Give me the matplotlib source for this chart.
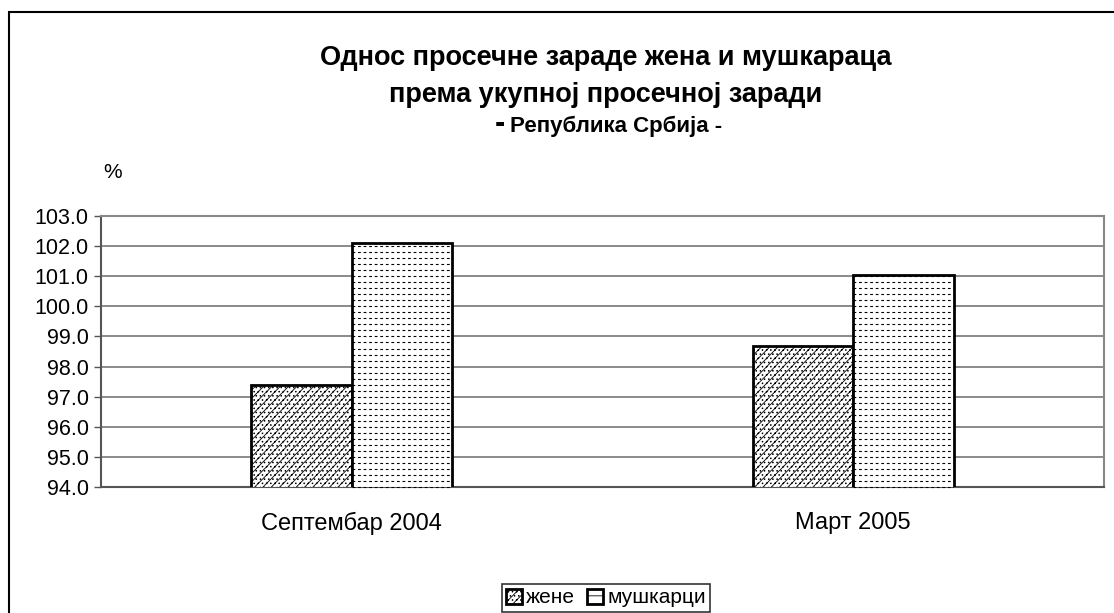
import numpy as np
import matplotlib.pyplot as plt
from matplotlib.patches import Rectangle

plt.rcParams['font.family'] = ['Liberation Sans', 'DejaVu Sans']
plt.rcParams['hatch.linewidth'] = 0.6

# data
categories = ['Септембар 2004', 'Март 2005']
series_names = ['жене', 'мушкарци']
zene = [97.4, 98.7]
muskarci = [102.1, 101.05]
yticks = [94.0, 95.0, 96.0, 97.0, 98.0, 99.0, 100.0, 101.0, 102.0, 103.0]

fig = plt.figure(figsize=(11.14, 6.13), dpi=100)
ax = fig.add_axes([0.0907, 0.2055, 0.9003, 0.4421])

x = np.arange(len(categories))
w = 0.2
ax.bar(x - w / 2, zene, w, bottom=0, color='white', edgecolor='black',
       linewidth=2, hatch='////....', label=series_names[0], zorder=3)
bars_m = ax.bar(x + w / 2, muskarci, w, bottom=0, color='white', edgecolor='black',
                linewidth=2, label=series_names[1], zorder=3)

# dashed horizontal texture inside the men's bars
for b in bars_m:
    ys = np.arange(94, b.get_height(), 0.2)
    ln = ax.hlines(ys, b.get_x(), b.get_x() + b.get_width(), colors='black',
                   linewidth=0.8, linestyles=(0, (2.5, 2.5)), zorder=3.5)
    ln.set_clip_path(b)

ax.set_xlim(-0.5, 1.5)
ax.set_ylim(94, 103)
ax.set_yticks(yticks)
ax.set_yticklabels([f'{v:.1f}' for v in yticks], fontsize=15.5)
ax.set_xticks(x)
ax.set_xticklabels(categories, fontsize=17)
ax.tick_params(axis='x', length=0, pad=18)
ax.tick_params(axis='y', length=5, width=1, direction='out', color='#555555', pad=4)
ax.grid(axis='y', color='#777777', linewidth=1.2, zorder=0)
for side in ['top', 'right']:
    ax.spines[side].set_color('#888888')
    ax.spines[side].set_linewidth(1.5)
ax.spines['left'].set_color('#555555')
ax.spines['left'].set_linewidth(1.5)
ax.spines['bottom'].set_color('#555555')
ax.spines['bottom'].set_linewidth(1.5)

cx = 0.544
fig.text(cx, 0.905, 'Однос просечне зараде жена и мушкараца', ha='center',
         va='center', fontsize=19.5, fontweight='bold')
fig.text(cx, 0.845, 'према укупној просечној заради', ha='center',
         va='center', fontsize=19.5, fontweight='bold')
fig.text(0.458, 0.794, 'Република Србија -', ha='left', va='center',
         fontsize=16, fontweight='bold')
fig.text(0.449, 0.798, '-', ha='center', va='center',
         fontsize=22, fontweight='bold')
fig.text(0.101, 0.719, '%', ha='center', va='center', fontsize=15)

leg = fig.legend(loc='center', bbox_to_anchor=(cx, 0.0245), ncol=2,
                 fontsize=15, frameon=True, fancybox=False, edgecolor='black',
                 handlelength=0.75, handleheight=0.75, handletextpad=0.2,
                 columnspacing=0.6, borderpad=0.2, borderaxespad=0)
leg.get_frame().set_linewidth(1.2)
leg.legend_handles[1].set_hatch('--')

# outer chart frame
fig.patches.append(Rectangle((0.008, -0.05), 1.2, 1.03, transform=fig.transFigure,
                             fill=False, edgecolor='black', linewidth=1.5))

fig.savefig('out.png', dpi=100)
